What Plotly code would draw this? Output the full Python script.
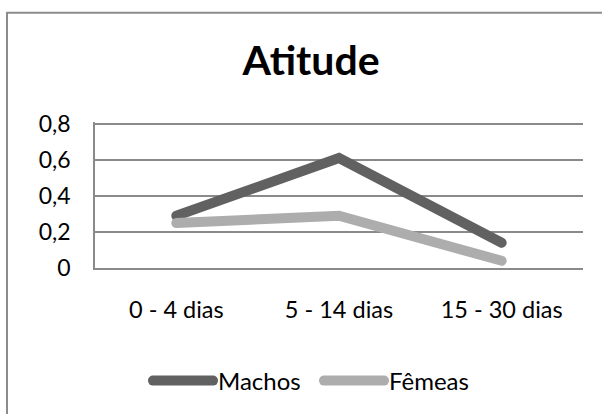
import plotly.graph_objects as go

categories = ["0 - 4 dias", "5 - 14 dias", "15 - 30 dias"]
machos = [0.29, 0.61, 0.14]
femeas = [0.25, 0.29, 0.04]
y_tickvals = [0, 0.2, 0.4, 0.6, 0.8]
y_ticktext = ["0", "0,2", "0,4", "0,6", "0,8"]

FONT = "Lato, Open Sans, sans-serif"
W, H = 602, 414
L, R, T, B = 95, 19, 122, 145
pw, ph = W - L - R, H - T - B

def px_x(x):
    return (x - L) / pw

def px_y(y):
    return (H - B - y) / ph

fig = go.Figure()
fig.add_trace(go.Scatter(x=categories, y=machos, name="Machos", mode="lines",
                         line=dict(color="#616161", width=10)))
fig.add_trace(go.Scatter(x=categories, y=femeas, name="Fêmeas", mode="lines",
                         line=dict(color="#adadad", width=10)))

fig.update_layout(
    width=W, height=H,
    margin=dict(l=L, r=R, t=T, b=B),
    paper_bgcolor="white", plot_bgcolor="white",
    font=dict(family=FONT, size=23, color="#000000"),
    title=dict(text="<b>Atitude</b>", x=311 / W, xanchor="center",
               y=1 - 61 / H, yanchor="middle", yref="container",
               font=dict(family=FONT, size=41, color="#000000")),
    showlegend=True,
    legend=dict(orientation="h", x=px_x(319), xanchor="center",
                y=px_y(381), yanchor="middle",
                font=dict(family=FONT, size=24), itemwidth=60,
                entrywidth=96,
                bgcolor="rgba(0,0,0,0)"),
    xaxis=dict(type="category", range=[-0.5, 2.5], showgrid=False,
               showline=True, linecolor="#8a8a8a", linewidth=1.5,
               ticks="", ticklabelstandoff=20, zeroline=False,
               tickfont=dict(family=FONT, size=23.5)),
    yaxis=dict(range=[0, 0.81], tickvals=y_tickvals, ticktext=y_ticktext,
               showgrid=True, gridcolor="#8a8a8a", gridwidth=1.5,
               showline=True, linecolor="#8a8a8a", linewidth=1.5,
               ticks="", ticklabelstandoff=18, zeroline=False,
               tickfont=dict(family=FONT, size=23)),
    shapes=[dict(type="rect", xref="paper", yref="paper",
                 x0=px_x(7), x1=px_x(640), y0=px_y(460), y1=px_y(12),
                 line=dict(color="#8c8c8c", width=2), layer="below")],
)

post = (
    "document.body.style.margin='0px';"
    "document.body.style.overflow='hidden';"
    "document.querySelectorAll('path.js-line').forEach(function(p){"
    "p.style.strokeLinecap='round';});"
)

fig.write_html("out.html", config={"displayModeBar": False}, post_script=post)
